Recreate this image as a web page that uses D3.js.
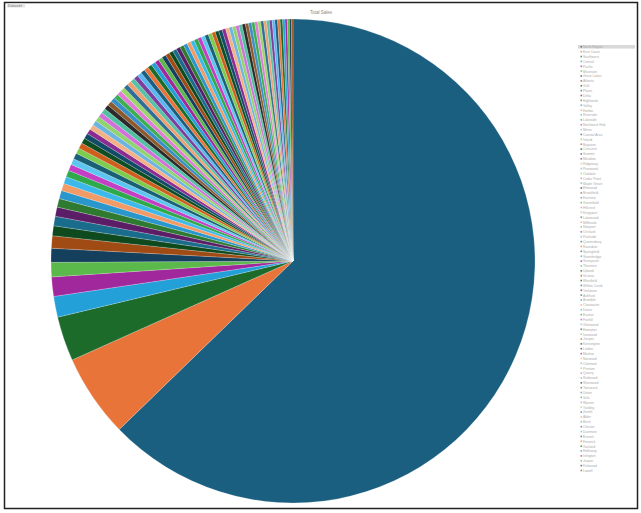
<!DOCTYPE html>
<html><head><meta charset="utf-8">
<script src="https://cdn.jsdelivr.net/npm/d3@7"></script>
<style>body{margin:0;background:#fff;font-family:"Liberation Sans",Arial,sans-serif}</style>
</head><body>
<svg id="c" width="641" height="513"></svg>
<script>
const categories = ["North Region","East Coast","Southwest","Central","Pacific","Mountain","Great Lakes","Atlantic","Gulf","Plains",
"Delta","Highlands","Valley","Harbor","Riverside","Lakeside","Northwest Hub","Metro","Coastal Area","Inland",
"Bayview","Crescent","Summit","Meadow","Ridgeway","Pinewood","Oakdale","Cedar Point","Maple Grove","Elmwood",
"Brookfield","Fairview","Greenfield","Hillcrest","Kingsport","Lakewood","Millbrook","Newport","Orchard","Parkside",
"Queensbury","Rosedale","Springfield","Stonebridge","Sunnyvale","Thornton","Upland","Victoria","Westfield","Willow Creek",
"Yorktown","Ashford","Bramble","Clearwater","Dover","Easton","Foxhill","Glenwood","Hampton","Ironwood",
"Juniper","Kensington","Linden","Marlow","Norwood","Oakmont","Preston","Quarry","Redwood","Sherwood",
"Tamarack","Union","Vale","Warren","Yardley","Zenith","Alder","Birch","Chester","Dunmore",
"Everett","Fenwick","Garland","Holloway","Islington","Jasper","Kirkwood","Lowell"];
const values = [63.3,5.6,3.0,1.4,1.3,0.97,0.94,0.83,0.67,0.64,
0.62,0.58,0.55,0.50,0.47,0.45,0.43,0.41,0.40,0.39,0.38,0.37,0.36,0.35,
0.34,0.34,0.33,0.33,0.33,0.32,0.32,0.32,0.31,0.31,
0.31,0.31,0.30,0.30,0.30,0.30,0.29,0.29,0.29,0.29,
0.28,0.28,0.28,0.28,0.27,0.27,0.27,0.27,0.26,0.26,
0.26,0.26,0.25,0.25,0.25,0.25,0.24,0.24,0.24,0.24,
0.23,0.23,0.23,0.22,0.22,0.22,0.21,0.21,0.21,0.20,
0.20,0.20,0.19,0.19,0.19,0.18,0.18,0.17,0.17,0.16,
0.15,0.14,0.13,0.11];
const palette = ["#1a5f80","#e8743a","#1c6b2b","#24a0d9","#a1279c","#5bb84a","#143f5d","#a04b13","#0f4a1f","#1a6c8c",
"#5c1d67","#2e7a30","#2996cc","#f29b67","#3db8ea","#2ea94b","#c43fc4","#5cc6f0","#186075","#7ccc4d",
"#cf5e1d","#0e4e22","#124b67","#8b2c93","#f4b183","#6fb3e0","#8fd46c","#d070d8","#4fc0a0","#2b2b2b",
"#8e5a2c","#3a8fc9","#3caf50","#e07bd8","#9ad66a","#2f6f95","#f0a070","#56c2a8","#7b3f9e","#5ab8f0"];

const svg = d3.select("#c");
svg.append("rect").attr("x",4.5).attr("y",2.5).attr("width",633).attr("height",506)
  .attr("fill","none").attr("stroke","#222").attr("stroke-width",1.5);

svg.append("rect").attr("x",7).attr("y",3.5).attr("width",18).attr("height",4).attr("fill","#e6e6e6");
svg.append("text").attr("x",8).attr("y",7).attr("font-size",4).attr("fill","#777").text("Dataset");
svg.append("text").attr("x",321).attr("y",14).attr("text-anchor","middle").attr("font-size",4.5).attr("fill","#888").text("Total Sales");

const color = d3.scaleOrdinal().domain(categories).range(palette);
const data = categories.map((c,i)=>({name:c,value:values[i]}));
const pie = d3.pie().value(d=>d.value).sort(null);
const arc = d3.arc().innerRadius(0).outerRadius(242);
const g = svg.append("g").attr("transform","translate(293,261)");
g.selectAll("path").data(pie(data)).join("path")
  .attr("d",arc).attr("fill",d=>color(d.data.name))
  .attr("stroke","#fff").attr("stroke-width",0.25).attr("stroke-opacity",0.8);

const lg = svg.append("g").attr("transform","translate(578,47)");
const step = 4.87;
lg.append("rect").attr("x",0).attr("y",-2).attr("width",57).attr("height",3.6).attr("fill","#d9d9d9");
const items = lg.selectAll("g.it").data(data).join("g").attr("class","it")
  .attr("transform",(d,i)=>`translate(0,${i*step})`);
items.append("rect").attr("x",2.5).attr("y",-1).attr("width",1.6).attr("height",1.6).attr("fill",d=>color(d.name)).attr("opacity",0.7);
items.append("text").attr("x",5).attr("y",1.2).attr("font-size",3.4).attr("fill","#aaa").text(d=>d.name);
</script>
</body></html>
